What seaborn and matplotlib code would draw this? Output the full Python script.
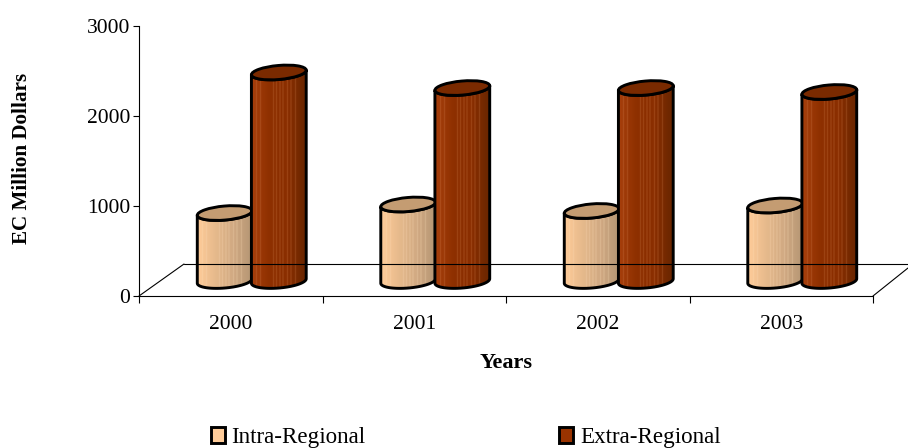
import numpy as np
import pandas as pd
import seaborn as sns
import matplotlib
matplotlib.use("Agg")
import matplotlib.pyplot as plt
from matplotlib.lines import Line2D
from matplotlib.patches import Ellipse, Patch, PathPatch
from matplotlib.path import Path
from matplotlib.transforms import IdentityTransform

# ── Data ──────────────────────────────────────────────────────
years = ["2000", "2001", "2002", "2003"]
intra_regional = [755, 850, 778, 839]
extra_regional = [2317, 2144, 2144, 2100]
y_ticks = [0, 1000, 2000, 3000]

W, H = 908, 448
DEPTH_X, DEPTH_Y = 21, 15   # cylinders sit half way into the floor
TILT = np.deg2rad(5)
RX, RY = 27.5, 7.0

sns.set_style("ticks")
plt.rcParams["font.family"] = ["Liberation Serif", "DejaVu Serif"]
plt.rcParams["text.color"] = "black"

df = pd.DataFrame({
    "year": years * 2,
    "value": intra_regional + extra_regional,
    "series": ["Intra-Regional"] * 4 + ["Extra-Regional"] * 4,
})

fig = plt.figure(figsize=(W / 100, H / 100), dpi=100)
ax = fig.add_axes([139 / W, 1 - 296 / H, 734 / W, 270 / H])

sns.barplot(data=df, x="year", y="value", hue="series", width=0.59, gap=0,
            ax=ax, legend=False, saturation=1,
            palette=["#FFCC99", "#993300"])
ax.set_xlim(-0.5, 3.5)
ax.set_ylim(0, 3000)

# ── Floor ─────────────────────────────────────────────────────
floor = [[(139, 296), (184, 264)], [(184, 264), (908, 264)], [(873, 296), (908, 268)]]
for a, b in floor:
    fig.add_artist(Line2D([a[0] / W, b[0] / W], [1 - a[1] / H, 1 - b[1] / H],
                          color="black", lw=0.8, zorder=1))


# ── Cylinders ─────────────────────────────────────────────────
def stripes(stops, light, n=110):
    pos = np.linspace(0, 1, len(stops))
    rgb = np.array([matplotlib.colors.to_rgb(c) for c in stops])
    col = np.column_stack([np.interp(np.linspace(0, 1, n), pos, rgb[:, i]) for i in range(3)])
    for i in (10, 18, 44, 50, 57, 63, 72, 79, 88):
        col[i:i + 2] = col[i:i + 2] * 0.72 + np.array(matplotlib.colors.to_rgb(light)) * 0.28
    return col[np.newaxis, :, :]


def ellipse_xy(cx, cy, t):
    x = cx + RX * np.cos(t) * np.cos(TILT) - RY * np.sin(t) * np.sin(TILT)
    y = cy + RX * np.cos(t) * np.sin(TILT) + RY * np.sin(t) * np.cos(TILT)
    return np.column_stack([x, y])


looks = [
    (["#FFCC99", "#E6BA8C", "#D0A982", "#B59674"], "#FFE0BE", "#C49C72"),
    (["#A83F0C", "#8E3000", "#8A2E00", "#682600"], "#D88A58", "#7A2A00"),
]

for container, (stops, light, cap) in zip(ax.containers, looks):
    img = stripes(stops, light)
    for bar in container:
        bar.set_alpha(0)
        (x0, y0), (x1, y1) = ax.transData.transform(
            [(bar.get_x(), 0), (bar.get_x() + bar.get_width(), bar.get_height())])
        cx = (x0 + x1) / 2 + DEPTH_X
        y_low, y_top = y0 + DEPTH_Y, y1 + DEPTH_Y

        t = np.linspace(np.pi, 2 * np.pi, 40)
        outline = np.vstack([ellipse_xy(cx, y_low, t), ellipse_xy(cx, y_top, t)[::-1]])
        body = PathPatch(Path(np.vstack([outline, outline[:1]]), closed=True), fc="none",
                         ec="black", lw=2.1, transform=IdentityTransform(), zorder=3,
                         clip_on=False, joinstyle="round")
        im = ax.imshow(img, extent=(cx - RX, cx + RX, y_low - 10, y_top + 10), aspect="auto",
                       transform=IdentityTransform(), zorder=3, interpolation="bilinear")
        ax.add_patch(body)
        im.set_clip_path(body)
        top = Ellipse((cx, y_top), 2 * RX, 2 * RY, angle=np.rad2deg(TILT), fc=cap, ec="black",
                      lw=2.1, transform=IdentityTransform(), zorder=3, clip_on=False)
        ax.add_patch(top)

ax.set_xlim(-0.5, 3.5)
ax.set_ylim(0, 3000)

# back edge of the floor shows faintly through the cylinders
fig.add_artist(Line2D([184 / W, 1], [1 - 264 / H] * 2, color="black", lw=0.7, alpha=0.22,
                      ls=(0, (1, 2)), zorder=5))

# ── Axes ──────────────────────────────────────────────────────
sns.despine(ax=ax)
for side in ("left", "bottom"):
    ax.spines[side].set_linewidth(0.8)
    ax.spines[side].set_color("black")
ax.patch.set_alpha(0)

ax.set_yticks(y_ticks)
ax.tick_params(axis="y", length=4.5, width=0.8, color="black", labelsize=15.5, pad=2, labelcolor="black")
ax.set_xticks(range(len(years)), labels=years)
ax.set_xticks(np.arange(-0.5, 4), minor=True)
ax.tick_params(axis="x", which="major", length=0, labelsize=15.5, pad=13.5, labelcolor="black")
ax.tick_params(axis="x", which="minor", length=5, width=0.8, color="black")
ax.set_xlabel("")
ax.set_ylabel("")

fig.text(22 / W, 1 - 158 / H, "EC Million Dollars", rotation=90, fontsize=15.2, fontweight="bold",
         ha="center", va="center")
fig.text(506 / W, 1 - 363 / H, "Years", fontsize=16, fontweight="bold", ha="center", va="center")

handles = [Patch(fc="#FFCC99", ec="black", lw=2.1, label="Intra-Regional"),
           Patch(fc="#993300", ec="black", lw=2.1, label="Extra-Regional")]
fig.legend(handles=handles, ncol=2, frameon=False, fontsize=16.6, loc="lower left",
           bbox_to_anchor=(204 / W, -7 / H), handlelength=0.6, handleheight=0.66,
           handletextpad=0.3, columnspacing=8.4, borderpad=0.3, borderaxespad=0)

fig.savefig("out.png", dpi=100)
